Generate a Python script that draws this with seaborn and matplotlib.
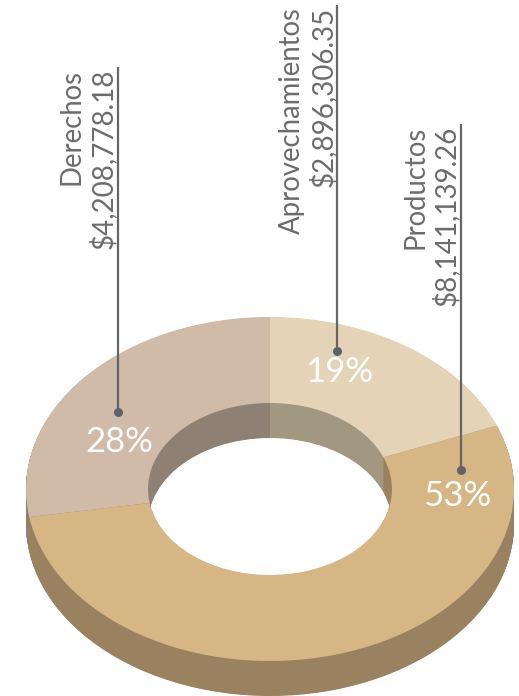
import matplotlib
matplotlib.use("Agg")
import matplotlib.pyplot as plt
import seaborn as sns

# Data
categories = ["Aprovechamientos", "Productos", "Derechos"]
amounts = [2896306.35, 8141139.26, 4208778.18]
amount_labels = ["$2,896,306.35", "$8,141,139.26", "$4,208,778.18"]
percent_labels = ["19%", "53%", "28%"]

# Style
top_colors = ["#e4d3b6", "#d6b684", "#d0baa8"]
side_colors = ["#a29780", "#9a8260", "#8f8074"]
TEXT = "#6c6c6c"
LINE = "#666666"
DOT = "#5f6369"

# Layout (pixels of the 519x696 canvas)
W, H = 519, 696
CX, CY, RX, RY = 270, 489, 244, 172
HOLE = 122 / 244
DEPTH = 35
K = RX / RY  # vertical stretch so a circular pie maps to the ellipse
line_x = [337, 461, 118]
line_top = [5, 124, 67]
dot_y = [351, 470, 412]
name_x = [292, 416, 72]
amount_x = [323, 446, 103]
text_top = [7, 126, 69]
pct_xy = [(339, 372), (457, 496), (119, 442)]

sns.set_theme(style="white")
plt.rcParams["font.family"] = ["Lato", "DejaVu Sans"]

fig = plt.figure(figsize=(W / 100, H / 100), dpi=100, facecolor="white")
ax = fig.add_axes([0, 0, 1, 1])


def yd(py):
    return (H - py) * K


def donut(colors, py):
    ax.pie(amounts, colors=colors, startangle=90, counterclock=False,
           center=(CX, yd(py)), radius=RX, normalize=True,
           wedgeprops=dict(width=RX * (1 - HOLE), linewidth=0))


for d in range(DEPTH * 2, 0, -1):
    donut(side_colors, CY + d / 2)
donut(top_colors, CY)

ax.set_aspect("auto")
ax.set_xlim(0, W)
ax.set_ylim(0, H * K)
ax.axis("off")

for i, cat in enumerate(categories):
    ax.plot([line_x[i], line_x[i]], [yd(line_top[i]), yd(dot_y[i])],
            color=LINE, lw=1.6, solid_capstyle="butt", zorder=20)
    ax.plot([line_x[i]], [yd(dot_y[i])], "o", color=DOT, ms=6.5, mew=0, zorder=21)
    ax.text(name_x[i], yd(text_top[i]), cat, rotation=90, ha="center", va="top",
            fontsize=19.8, color=TEXT, zorder=22)
    ax.text(amount_x[i], yd(text_top[i]), amount_labels[i], rotation=90, ha="center", va="top",
            fontsize=20, color=TEXT, zorder=22)
    ax.text(pct_xy[i][0], yd(pct_xy[i][1]), percent_labels[i], ha="center", va="center",
            fontsize=25, color="white", zorder=22)

fig.savefig("out.png", dpi=100, facecolor="white")
